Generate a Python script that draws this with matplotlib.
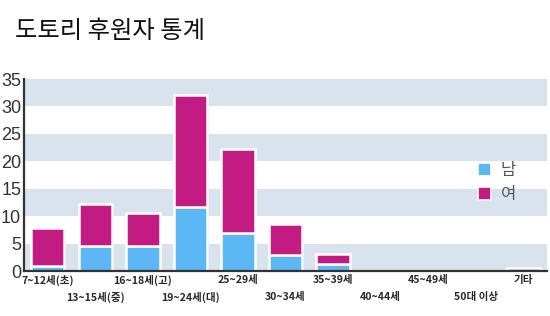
import matplotlib
matplotlib.use("Agg")
import matplotlib.pyplot as plt
from matplotlib.patches import Patch
import matplotlib.patheffects as pe
import numpy as np

title = "도토리 후원자 통계"
categories = ["7~12세(초)", "13~15세(중)", "16~18세(고)", "19~24세(대)", "25~29세",
              "30~34세", "35~39세", "40~44세", "45~49세", "50대 이상", "기타"]
male = [1.0, 4.5, 4.5, 11.6, 6.9, 2.9, 1.2, 0, 0, 0, 0]
female = [6.8, 7.7, 6.0, 20.4, 15.3, 5.7, 1.9, 0, 0, 0, 0.6]
series_names = ["남", "여"]
yticks = [0, 5, 10, 15, 20, 25, 30, 35]

blue = "#5BB8F4"
magenta = "#C21B82"
band = "#D9E3EE"
axis_col = "#333333"
KR = ["Noto Sans CJK KR", "DejaVu Sans"]

fig = plt.figure(figsize=(5.5, 3.16), dpi=100)
fig.patch.set_facecolor("white")
ax = fig.add_axes([24/550, 1-271/316, (547-24)/550, (271-79)/316])

for lo in range(0, 35, 10):
    ax.axhspan(lo, lo + 5, color=band, lw=0, zorder=0)

x = np.arange(len(categories))
shadow = [pe.SimplePatchShadow(offset=(1.2, -1.2), alpha=0.18), pe.Normal()]
b1 = ax.bar(x, male, width=0.7, color=blue, edgecolor="white", linewidth=1.8, zorder=3)
b2 = ax.bar(x, female, width=0.7, bottom=male, color=magenta, edgecolor="white", linewidth=1.8, zorder=3)
for r in list(b1) + list(b2):
    r.set_path_effects(shadow)

ax.set_xlim(-0.5, 10.5)
ax.set_ylim(0, 35)
ax.set_yticks(yticks)
ax.set_yticklabels([str(v) for v in yticks], fontsize=13,
                   family=["Liberation Sans", "DejaVu Sans"], color=axis_col)
ax.tick_params(axis="y", length=0, pad=2)
ax.set_xticks([])

for s in ["top", "right"]:
    ax.spines[s].set_visible(False)
for s in ["left", "bottom"]:
    ax.spines[s].set_color(axis_col)
    ax.spines[s].set_linewidth(1.6)
    ax.spines[s].set_zorder(5)

for i, lab in enumerate(categories):
    off = -6.6 if i % 2 == 0 else -18.7
    ax.annotate(lab, xy=(x[i], 0), xycoords=("data", "axes fraction"),
                xytext=(0, off), textcoords="offset points", ha="center", va="center",
                fontsize=7.6, family=KR, weight="bold", color="#2a2a2a",
                annotation_clip=False)

handles = [Patch(facecolor=blue, edgecolor="white", lw=1.2),
           Patch(facecolor=magenta, edgecolor="white", lw=1.2)]
leg = ax.legend(handles, series_names, loc="upper left", bbox_to_anchor=(463/550, 1-147/316),
                bbox_transform=fig.transFigure, frameon=False, handlelength=0.8, handleheight=0.8,
                handletextpad=0.55, labelspacing=0.45,
                prop={"family": KR, "size": 12})
for t in leg.get_texts():
    t.set_color("#555555")

fig.text(15/550, 1-31/316, title, fontsize=17.5, family=KR,
         color="#111111", ha="left", va="center")

fig.savefig("out.png", dpi=100, facecolor="white")
